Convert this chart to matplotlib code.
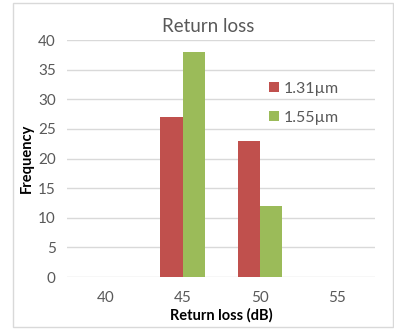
import matplotlib
matplotlib.use("Agg")
import matplotlib.pyplot as plt
from matplotlib.patches import Rectangle
import numpy as np

# data
categories = ["40", "45", "50", "55"]
freq_131 = [0, 27, 23, 0]
freq_155 = [0, 38, 12, 0]

plt.rcParams['font.family'] = ['Lato', 'DejaVu Sans']

fig = plt.figure(figsize=(3.94, 3.29), dpi=100)
ax = fig.add_axes([0.170, 0.158, 0.782, 0.720])

x = np.arange(len(categories))
w = 0.286
ax.bar(x - w / 2, freq_131, w, color="#C0504D", label="1.31µm", zorder=3)
ax.bar(x + w / 2, freq_155, w, color="#9BBB59", label="1.55µm", zorder=3)

ax.set_xlim(-0.5, 3.5)
ax.set_ylim(0, 40)
ax.set_yticks(range(0, 41, 5))
ax.set_xticks(x)
ax.set_xticklabels(categories)
ax.yaxis.grid(True, color="#D9D9D9", linewidth=1, zorder=0)
for s in ax.spines.values():
    s.set_visible(False)
ax.tick_params(length=0, labelsize=11, labelcolor="#595959", pad=8)
ax.tick_params(axis="x", pad=10)

fig.text(208 / 394, 1 - 27 / 329, "Return loss", fontsize=13.5, color="#595959",
         ha="center", va="center")
ax.set_xlabel("Return loss (dB)", fontsize=10.5, fontweight="bold", labelpad=2)
ax.set_ylabel("Frequency", fontsize=10.5, fontweight="bold", labelpad=3)

ax.legend(loc="upper left", bbox_to_anchor=(0.61, 0.885), frameon=False,
          fontsize=11.5, handlelength=0.6, handleheight=0.6, handletextpad=0.3,
          labelspacing=0.95, labelcolor="#595959")

# outer chart border
fig.patches.append(Rectangle((13 / 394, 2 / 329), 380 / 394, 324 / 329,
                             transform=fig.transFigure, fill=False,
                             edgecolor="#D9D9D9", linewidth=1))

fig.savefig("out.png", dpi=100)
